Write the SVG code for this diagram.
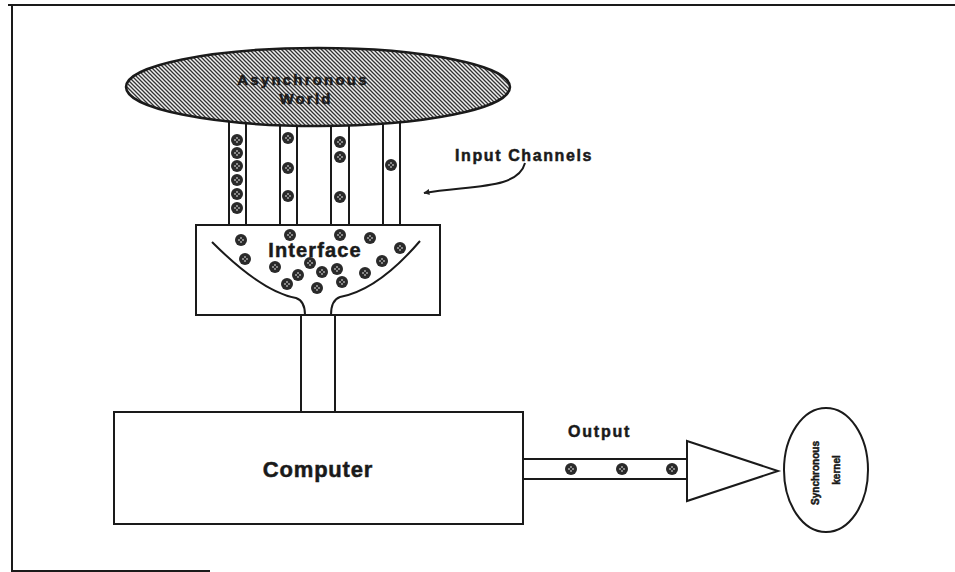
<svg xmlns="http://www.w3.org/2000/svg" width="955" height="572" viewBox="0 0 955 572">
<defs>
<pattern id="hatch" patternUnits="userSpaceOnUse" width="4" height="4">
<rect width="4" height="4" fill="#f0f0f0"/>
<path d="M-1,-1 L5,5 M-1,3 L1,5 M3,-1 L5,1" stroke="#333" stroke-width="1.3"/>
</pattern>
<marker id="ah" viewBox="0 0 10 10" refX="9" refY="5" markerWidth="8" markerHeight="6" orient="auto-start-reverse" markerUnits="userSpaceOnUse">
<path d="M0,0 L10,5 L0,10 z" fill="#222"/>
</marker>
<g id="dot">
<circle r="6" fill="#2a2a2a"/>
<circle cx="-2" cy="0" r="0.8" fill="#fff"/>
<circle cx="2" cy="0" r="0.8" fill="#fff"/>
<circle cx="0" cy="-2" r="0.8" fill="#fff"/>
<circle cx="0" cy="2" r="0.8" fill="#fff"/>
</g>
</defs>
<style>
.ln{fill:none;stroke:#1a1a1a;stroke-width:2}
.box{fill:#fff;stroke:#1a1a1a;stroke-width:2}
.t{font-family:"Liberation Sans",Arial,sans-serif;font-weight:bold;fill:#1a1a1a;stroke:#1a1a1a;stroke-width:0.5}
</style>
<rect width="955" height="572" fill="#fff"/>
<g id="frame">
<path d="M8,5 H955" class="ln" stroke-width="2.5"/>
<path d="M12,5 V572" class="ln"/>
<path d="M12,571 H210" class="ln" stroke-width="1" stroke="#666"/>
</g>
<g id="connectors">
<g id="channels">
<path class="ln" d="M229,118 V226 M246,118 V226 M280,118 V226 M297,118 V226 M331,118 V226 M349,118 V226 M383,118 V226 M400,118 V226"/>
</g>
<g id="pipe">
<path class="ln" d="M301,314 V411 M335,314 V411"/>
</g>
<g id="output-pipe">
<path class="ln" d="M523,459 H687 M523,479 H687"/>
</g>
<path id="input-arrow" d="M525,163 C518,190 470,185 424,193" fill="none" stroke="#1a1a1a" stroke-width="2" marker-end="url(#ah)"/>
</g>
<g id="channel-dots">
<use href="#dot" x="237" y="140"/>
<use href="#dot" x="237" y="153"/>
<use href="#dot" x="237" y="166"/>
<use href="#dot" x="237" y="180"/>
<use href="#dot" x="237" y="194"/>
<use href="#dot" x="237" y="208"/>
<use href="#dot" x="288" y="138"/>
<use href="#dot" x="288" y="168"/>
<use href="#dot" x="288" y="196"/>
<use href="#dot" x="340" y="142"/>
<use href="#dot" x="340" y="157"/>
<use href="#dot" x="340" y="197"/>
<use href="#dot" x="391" y="165"/>
</g>
<g id="async-world">
<ellipse cx="318" cy="87" rx="192" ry="39" fill="url(#hatch)" stroke="#1a1a1a" stroke-width="2.5"/>
<text class="t" x="303" y="85" font-size="15" letter-spacing="2.2" text-anchor="middle">Asynchronous</text>
<text class="t" x="306" y="104" font-size="15" letter-spacing="2.2" text-anchor="middle">World</text>
</g>
<g id="input-label">
<text class="t" x="455" y="161" font-size="16" letter-spacing="1.6">Input Channels</text>
</g>
<g id="interface">
<rect class="box" x="196" y="225" width="244" height="90"/>
<path class="ln" d="M212,242 Q262,292 296,298 Q305,301 305,315"/>
<path class="ln" d="M420,241 Q378,290 340,297 Q331,300 331,315"/>
<text class="t" x="315" y="257" font-size="20" letter-spacing="1.1" text-anchor="middle">Interface</text>
<use href="#dot" x="241" y="240"/>
<use href="#dot" x="290" y="235"/>
<use href="#dot" x="340" y="235"/>
<use href="#dot" x="370" y="238"/>
<use href="#dot" x="400" y="248"/>
<use href="#dot" x="245" y="259"/>
<use href="#dot" x="275" y="267"/>
<use href="#dot" x="310" y="263"/>
<use href="#dot" x="298" y="275"/>
<use href="#dot" x="322" y="272"/>
<use href="#dot" x="337" y="269"/>
<use href="#dot" x="382" y="261"/>
<use href="#dot" x="365" y="273"/>
<use href="#dot" x="287" y="284"/>
<use href="#dot" x="317" y="288"/>
<use href="#dot" x="342" y="282"/>
</g>
<g id="computer">
<rect class="box" x="114" y="412" width="409" height="112"/>
<text class="t" x="318" y="477" font-size="22" letter-spacing="0.8" text-anchor="middle">Computer</text>
</g>
<g id="output">
<text class="t" x="568" y="437" font-size="16" letter-spacing="1.8">Output</text>
<use href="#dot" x="571" y="469"/>
<use href="#dot" x="622" y="469"/>
<use href="#dot" x="672" y="469"/>
</g>
<g id="amplifier">
<path class="box" d="M687,441 L778,471 L687,501 Z"/>
</g>
<g id="sync-kernel">
<ellipse cx="826" cy="470" rx="42" ry="62" fill="#fff" stroke="#1a1a1a" stroke-width="2"/>
<text class="t" font-size="10" stroke-width="0.3" text-anchor="middle" transform="translate(819,473) rotate(-90)">Synchronous</text>
<text class="t" font-size="10" stroke-width="0.3" text-anchor="middle" transform="translate(840,470) rotate(-90)">kernel</text>
</g>
</svg>
